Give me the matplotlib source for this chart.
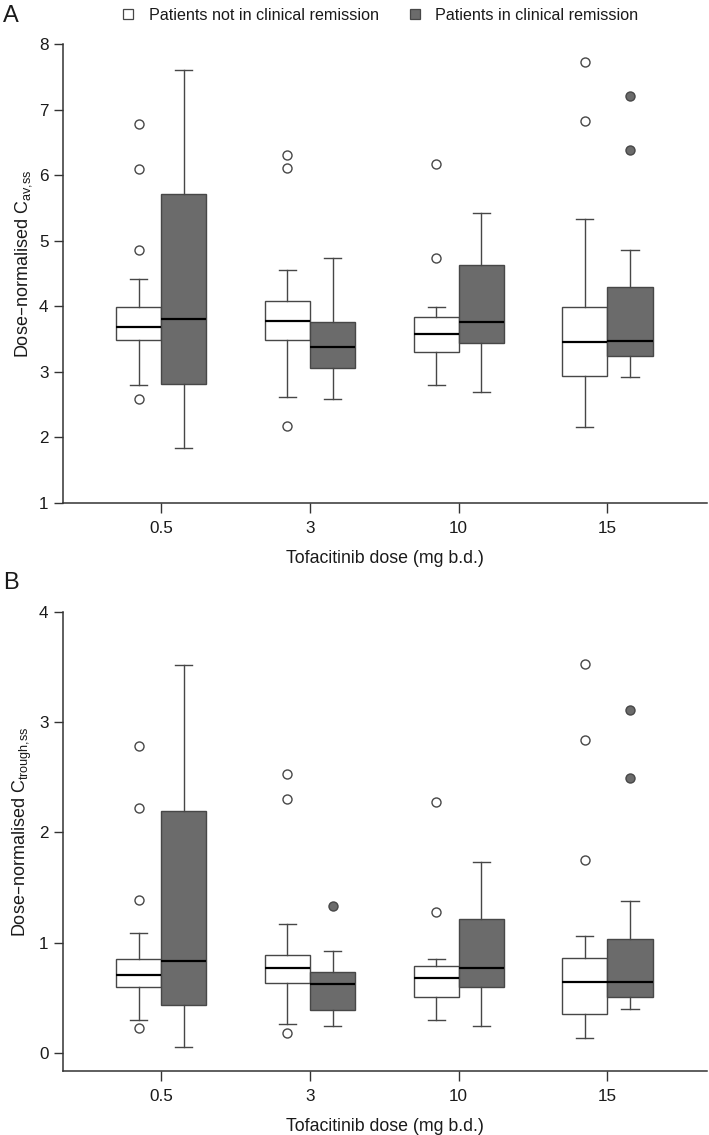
import matplotlib
matplotlib.use("Agg")
import matplotlib.pyplot as plt
from matplotlib.lines import Line2D

plt.rcParams['font.family'] = ['Liberation Sans', 'DejaVu Sans']
plt.rcParams['mathtext.default'] = 'regular'

# Data
doses = ['0.5', '3', '10', '15']
legend_labels = ['Patients not in clinical remission', 'Patients in clinical remission']

# Panel A: dose-normalised Cav,ss
a_not_whislo = [2.80, 2.62, 2.80, 2.15]
a_not_q1 = [3.48, 3.48, 3.30, 2.94]
a_not_med = [3.68, 3.78, 3.58, 3.45]
a_not_q3 = [3.99, 4.08, 3.84, 3.99]
a_not_whishi = [4.41, 4.55, 3.99, 5.33]
a_not_fliers = [[6.78, 6.09, 4.85, 2.58], [6.30, 6.11, 2.17], [6.17, 4.73], [7.72, 6.83]]

a_rem_whislo = [1.83, 2.59, 2.69, 2.92]
a_rem_q1 = [2.81, 3.06, 3.44, 3.24]
a_rem_med = [3.80, 3.38, 3.76, 3.47]
a_rem_q3 = [5.71, 3.76, 4.63, 4.29]
a_rem_whishi = [7.60, 4.73, 5.42, 4.86]
a_rem_fliers = [[], [], [], [7.20, 6.39]]

# Panel B: dose-normalised Ctrough,ss
b_not_whislo = [0.30, 0.26, 0.30, 0.13]
b_not_q1 = [0.60, 0.63, 0.51, 0.35]
b_not_med = [0.71, 0.77, 0.68, 0.64]
b_not_q3 = [0.85, 0.89, 0.79, 0.86]
b_not_whishi = [1.09, 1.17, 0.85, 1.06]
b_not_fliers = [[2.78, 2.22, 1.39, 0.22], [2.53, 2.30, 0.18], [2.28, 1.28], [3.53, 2.84, 1.75]]

b_rem_whislo = [0.05, 0.24, 0.24, 0.40]
b_rem_q1 = [0.43, 0.39, 0.60, 0.51]
b_rem_med = [0.83, 0.62, 0.77, 0.64]
b_rem_q3 = [2.19, 0.73, 1.21, 1.03]
b_rem_whishi = [3.52, 0.92, 1.73, 1.38]
b_rem_fliers = [[], [1.33], [], [3.11, 2.49]]

GREY = '#6b6b6b'
EDGE = '#474747'
TEXT = '#1a1a1a'


def make_stats(whislo, q1, med, q3, whishi, fliers):
    return [dict(whislo=w0, q1=a, med=m, q3=b, whishi=w1, fliers=f)
            for w0, a, m, b, w1, f in zip(whislo, q1, med, q3, whishi, fliers)]


def draw_boxes(ax, stats, offset, face):
    pos = [i + offset for i in range(len(stats))]
    ax.bxp(stats, positions=pos, widths=0.303, capwidths=0.115,
           patch_artist=True, manage_ticks=False,
           boxprops=dict(facecolor=face, edgecolor=EDGE, linewidth=1.0),
           medianprops=dict(color='black', linewidth=1.6),
           whiskerprops=dict(color=EDGE, linewidth=1.0),
           capprops=dict(color=EDGE, linewidth=1.0),
           flierprops=dict(marker='o', markersize=6.5, markerfacecolor=face,
                           markeredgecolor=EDGE, markeredgewidth=1.0))


def style_axis(ax, ylim, yticks, ylabel):
    ax.set_xlim(-0.661, 3.668)
    ax.set_ylim(*ylim)
    ax.set_yticks(yticks)
    ax.set_xticks(range(len(doses)))
    ax.set_xticklabels(doses)
    for side in ['top', 'right']:
        ax.spines[side].set_visible(False)
    for side in ['left', 'bottom']:
        ax.spines[side].set_color('#333333')
        ax.spines[side].set_linewidth(1.1)
    ax.tick_params(axis='x', direction='out', length=7, width=1.0, color='#333333',
                   labelsize=12.3, labelcolor=TEXT, pad=6)
    ax.tick_params(axis='y', direction='out', length=6.5, width=1.0, color='#333333',
                   labelsize=12.3, labelcolor=TEXT, pad=4)
    ax.set_xlabel('Tofacitinib dose (mg b.d.)', fontsize=12.8, color=TEXT, labelpad=10)
    ax.set_ylabel(ylabel, fontsize=13, color=TEXT)
    ax.yaxis.set_label_coords(-0.045, 0.52)


fig = plt.figure(figsize=(7.09, 11.35), dpi=100)
axA = fig.add_axes([63 / 709, 1 - 502.7 / 1135, 643.7 / 709, 458.7 / 1135])
axB = fig.add_axes([63 / 709, 1 - 1070.7 / 1135, 643.7 / 709, 458.7 / 1135])

draw_boxes(axA, make_stats(a_not_whislo, a_not_q1, a_not_med, a_not_q3, a_not_whishi, a_not_fliers), -0.152, 'white')
draw_boxes(axA, make_stats(a_rem_whislo, a_rem_q1, a_rem_med, a_rem_q3, a_rem_whishi, a_rem_fliers), 0.152, GREY)
style_axis(axA, (1, 8), range(1, 9), 'Dose\u2013normalised C$_{av{,}ss}$')

draw_boxes(axB, make_stats(b_not_whislo, b_not_q1, b_not_med, b_not_q3, b_not_whishi, b_not_fliers), -0.152, 'white')
draw_boxes(axB, make_stats(b_rem_whislo, b_rem_q1, b_rem_med, b_rem_q3, b_rem_whishi, b_rem_fliers), 0.152, GREY)
style_axis(axB, (-0.163, 4), range(0, 5), 'Dose\u2013normalised C$_{trough{,}ss}$')

# Panel letters
fig.text(3 / 709, 1 - 15.5 / 1135, 'A', fontsize=17, color=TEXT, va='center', ha='left')
fig.text(3 / 709, 1 - 583 / 1135, 'B', fontsize=17, color=TEXT, va='center', ha='left')

# Legend
handles = [Line2D([], [], linestyle='none', marker='s', markersize=6.5, markerfacecolor='white',
                  markeredgecolor=EDGE, markeredgewidth=0.9),
           Line2D([], [], linestyle='none', marker='s', markersize=7.5, markerfacecolor=GREY,
                  markeredgecolor=EDGE, markeredgewidth=0.9)]
fig.legend(handles, legend_labels, loc='center', bbox_to_anchor=(380 / 709, 1 - 15 / 1135),
           ncol=2, frameon=False, fontsize=11.6, handlelength=0.8, handletextpad=0.85,
           columnspacing=1.85, labelcolor=TEXT, borderpad=0, borderaxespad=0)

fig.savefig('out.png', dpi=100)
